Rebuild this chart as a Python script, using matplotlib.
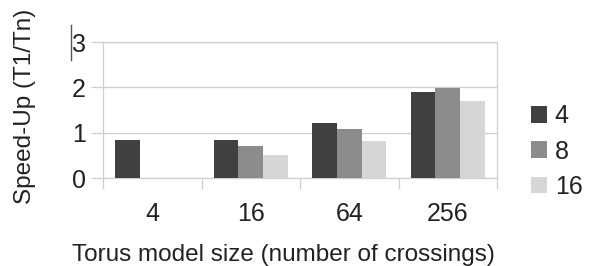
import matplotlib
matplotlib.use('Agg')
import matplotlib.pyplot as plt
import numpy as np
from matplotlib.lines import Line2D

# data
sizes = ['4', '16', '64', '256']
threads = ['4', '8', '16']
speedup_4 = [0.83, 0.84, 1.21, 1.90]
speedup_8 = [0.0, 0.71, 1.07, 1.98]
speedup_16 = [0.0, 0.51, 0.82, 1.69]
colors = ['#404040', '#8c8c8c', '#d6d6d6']

plt.rcParams['font.family'] = ['Liberation Sans', 'DejaVu Sans']
plt.rcParams['text.color'] = '#222222'
GRID = '#cfcfcf'
FS_TICK = 18
FS_LAB = 17.5

fig = plt.figure(figsize=(5.94, 2.66), dpi=100)
ax = fig.add_axes([103 / 594, 88 / 266, 394 / 594, 136 / 266])

x = np.arange(len(sizes))
w = 0.25
for i, (vals, lab) in enumerate(zip([speedup_4, speedup_8, speedup_16], threads)):
    ax.bar(x + (i - 1) * w, vals, width=w, color=colors[i], label=lab, zorder=3)

ax.set_xlim(-0.5, len(sizes) - 0.5)
ax.set_ylim(0, 3)
ax.set_yticks([0, 1, 2, 3])
ax.yaxis.grid(True, color=GRID, lw=0.9, zorder=0)
for s in ax.spines.values():
    s.set_color(GRID)
    s.set_linewidth(0.9)

ax.set_xticks(x)
ax.set_xticklabels(sizes)
ax.set_xticks(np.arange(-0.5, len(sizes)), minor=True)
ax.tick_params(axis='x', which='major', length=0, pad=17, labelsize=FS_TICK, labelcolor='#222222')
ax.tick_params(axis='x', which='minor', length=8, color=GRID, width=0.9)
ax.tick_params(axis='y', length=9, color=GRID, width=0.9, pad=3.5, labelsize=FS_TICK, labelcolor='#222222')

fig.text(25 / 594, 0.60, 'Speed-Up (T1/Tn)', rotation=90, ha='center', va='center', fontsize=FS_LAB)
fig.text(283 / 594, 5 / 266, 'Torus model size (number of crossings)', ha='center', va='baseline',
         fontsize=FS_LAB)

# small stray mark next to the "3" tick label
fig.add_artist(Line2D([71 / 594, 71 / 594], [1 - 25 / 266, 1 - 60 / 266], color='#555555', lw=1.0))

ax.legend(loc='center left', bbox_to_anchor=(531 / 594, 0.43), bbox_transform=fig.transFigure,
          frameon=False, fontsize=FS_TICK, handlelength=0.65, handleheight=0.65, handletextpad=0.3,
          labelspacing=0.45, borderaxespad=0, borderpad=0)

fig.savefig('out.png', dpi=100)
